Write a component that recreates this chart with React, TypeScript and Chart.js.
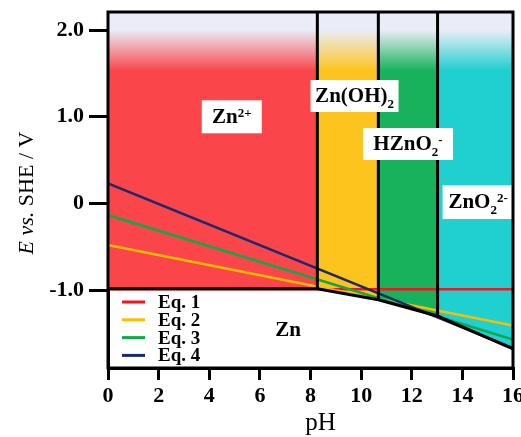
import React, { useEffect, useRef } from "react";
import { Chart, registerables } from "chart.js";

Chart.register(...registerables);

// ---------- data ----------
const xTicks = [0, 2, 4, 6, 8, 10, 12, 14, 16];
const yTicks = [-1, 0, 1, 2];
const xMin = 0;
const xMax = 16;
const yMin = -1.9;
const yMax = 2.21;

// region boundaries (pH) and the lower (Zn) boundary potential (V)
const boundaryPH = [0, 8.27, 10.68, 13.02, 16];
const boundaryE = [-0.985, -0.985, -1.112, -1.3, -1.68];
const regionNames = ["Zn^{2+}", "Zn(OH)_{2}", "HZnO_{2}^{-}", "ZnO_{2}^{2-}"];
const regionColors = ["#fa464b", "#fdc41e", "#17b25b", "#20cfcf"];
const zincName = "Zn";

const eqNames = ["Eq. 1", "Eq. 2", "Eq. 3", "Eq. 4"];
const eqPH = [0, 16];
const eq1E = [-0.99, -0.99];
const eq2E = [-0.48, -1.41];
const eq3E = [-0.134, -1.572];
const eq4E = [0.232, -1.67];
const eqColors = ["#f5141e", "#fbbd00", "#12a84a", "#1b2a6b"];

// ---------- label layout (not data) ----------
const regionLabelLayout = [
  { x: 4.89, y: 1.0, w: 60, h: 33 },
  { x: 9.74, y: 1.24, w: 88, h: 32 },
  { x: 11.85, y: 0.686, w: 90, h: 32 },
  { x: 14.62, y: 0.016, w: 71, h: 34 },
];
const zincLabelAt = { x: 7.11, y: -1.46 };

const SERIF = '"Liberation Serif", "Times New Roman", serif';
const TOP_LIGHT = "#eaedf7";

type Seg = { t: string; m: "n" | "sub" | "sup" };
function parseRich(s: string): Seg[] {
  const segs: Seg[] = [];
  let i = 0;
  const isMark = (k: number) => (s[k] === "^" || s[k] === "_") && s[k + 1] === "{";
  while (i < s.length) {
    if (isMark(i)) {
      const j = s.indexOf("}", i);
      segs.push({ t: s.slice(i + 2, j), m: s[i] === "^" ? "sup" : "sub" });
      i = j + 1;
    } else {
      let j = i;
      while (j < s.length && !isMark(j)) j++;
      segs.push({ t: s.slice(i, j), m: "n" });
      i = j;
    }
  }
  return segs;
}

function drawRich(ctx: CanvasRenderingContext2D, text: string, cx: number, cy: number, size: number) {
  const segs = parseRich(text);
  const big = `bold ${size}px ${SERIF}`;
  const small = `bold ${Math.round(size * 0.63)}px ${SERIF}`;
  let total = 0;
  const widths = segs.map((s) => {
    ctx.font = s.m === "n" ? big : small;
    const w = ctx.measureText(s.t).width;
    total += w;
    return w;
  });
  let x = cx - total / 2;
  const base = cy + size * 0.3;
  ctx.textAlign = "left";
  ctx.textBaseline = "alphabetic";
  ctx.fillStyle = "#000";
  segs.forEach((s, k) => {
    ctx.font = s.m === "n" ? big : small;
    const dy = s.m === "sup" ? -size * 0.3 : s.m === "sub" ? size * 0.25 : 0;
    ctx.fillText(s.t, x, base + dy);
    x += widths[k];
  });
}

function gradientFor(color: string) {
  return (c: any) => {
    const chart = c.chart;
    const a = chart.chartArea;
    if (!a) return color;
    const g = chart.ctx.createLinearGradient(0, a.top, 0, a.bottom);
    g.addColorStop(0, TOP_LIGHT);
    g.addColorStop(0.05, TOP_LIGHT);
    g.addColorStop(0.165, color);
    g.addColorStop(1, color);
    return g;
  };
}

const overlayPlugin = {
  id: "overlay",
  beforeDraw(chart: any) {
    const ctx = chart.ctx;
    ctx.save();
    ctx.fillStyle = "#fff";
    ctx.fillRect(0, 0, chart.width, chart.height);
    ctx.restore();
  },
  afterDatasetsDraw(chart: any) {
    const ctx: CanvasRenderingContext2D = chart.ctx;
    const xs = chart.scales.x;
    const ys = chart.scales.y;
    const a = chart.chartArea;
    ctx.save();
    // region labels with white boxes
    regionNames.forEach((name, i) => {
      const L = regionLabelLayout[i];
      const cx = xs.getPixelForValue(L.x);
      const cy = ys.getPixelForValue(L.y);
      ctx.fillStyle = "#fff";
      ctx.fillRect(cx - L.w / 2, cy - L.h / 2, L.w, L.h);
      drawRich(ctx, name, cx, cy, 21);
    });
    drawRich(ctx, zincName, xs.getPixelForValue(zincLabelAt.x), ys.getPixelForValue(zincLabelAt.y), 21);

    // legend
    const lx = a.left + 14;
    const ly = a.bottom - 66;
    eqNames.forEach((n, i) => {
      const y = ly + i * 17.8;
      ctx.strokeStyle = eqColors[i];
      ctx.lineWidth = 3;
      ctx.beginPath();
      ctx.moveTo(lx, y);
      ctx.lineTo(lx + 23, y);
      ctx.stroke();
      ctx.fillStyle = "#000";
      ctx.font = `bold 19px ${SERIF}`;
      ctx.textAlign = "left";
      ctx.textBaseline = "middle";
      ctx.fillText(n, lx + 36, y + 1);
    });

    // frame
    ctx.strokeStyle = "#000";
    ctx.lineWidth = 3;
    ctx.strokeRect(a.left, a.top, a.right - a.left, a.bottom - a.top);
    ctx.restore();
  },
  afterDraw(chart: any) {
    const ctx: CanvasRenderingContext2D = chart.ctx;
    const a = chart.chartArea;
    ctx.save();
    // x title
    ctx.fillStyle = "#000";
    ctx.font = `25px ${SERIF}`;
    ctx.textAlign = "center";
    ctx.textBaseline = "alphabetic";
    ctx.fillText("pH", (a.left + a.right) / 2 + 10, 430);
    // y title (rotated, mixed italic)
    const segs: { t: string; f: string }[] = [
      { t: "E", f: `italic 22px ${SERIF}` },
      { t: " vs.", f: `italic 22px ${SERIF}` },
      { t: " SHE / V", f: `22px ${SERIF}` },
    ];
    let total = 0;
    const ws = segs.map((s) => {
      ctx.font = s.f;
      const w = ctx.measureText(s.t).width;
      total += w;
      return w;
    });
    ctx.translate(33, (a.top + a.bottom) / 2 + 3);
    ctx.rotate(-Math.PI / 2);
    let x = -total / 2;
    ctx.textAlign = "left";
    segs.forEach((s, k) => {
      ctx.font = s.f;
      ctx.fillText(s.t, x, 0);
      x += ws[k];
    });
    ctx.restore();
  },
};

function pts(xv: number[], yv: number[]) {
  return xv.map((x, i) => ({ x, y: yv[i] }));
}

export default function App() {
  const ref = useRef<HTMLCanvasElement>(null);
  useEffect(() => {
    const datasets: any[] = [];
    // regions
    regionNames.forEach((name, i) => {
      datasets.push({
        label: name,
        data: pts(boundaryPH.slice(i, i + 2), boundaryE.slice(i, i + 2)),
        borderWidth: 0,
        borderColor: "rgba(0,0,0,0)",
        backgroundColor: gradientFor(regionColors[i]),
        fill: "end",
        pointRadius: 0,
        order: 20,
      });
    });
    // equation lines
    const eqE = [eq1E, eq2E, eq3E, eq4E];
    const eqOrder = [15, 10, 9, 8];
    eqNames.forEach((n, i) => {
      datasets.push({
        label: n,
        data: pts(eqPH, eqE[i]),
        borderColor: eqColors[i],
        borderWidth: 2.6,
        pointRadius: 0,
        fill: false,
        order: eqOrder[i],
      });
    });
    // black boundary lines
    datasets.push({
      label: "boundary",
      data: pts(boundaryPH, boundaryE),
      borderColor: "#000",
      borderWidth: 3,
      pointRadius: 0,
      fill: false,
      order: 5,
    });
    for (let i = 1; i < boundaryPH.length - 1; i++) {
      datasets.push({
        label: "v" + i,
        data: pts([boundaryPH[i], boundaryPH[i]], [yMax, boundaryE[i]]),
        borderColor: "#000",
        borderWidth: 3,
        pointRadius: 0,
        fill: false,
        order: 5,
      });
    }

    const tickFont = { family: SERIF, size: 22, weight: "bold" as const };
    const chart = new Chart(ref.current!, {
      type: "line",
      data: { datasets },
      plugins: [overlayPlugin],
      options: {
        responsive: false,
        animation: false,
        devicePixelRatio: 1,
        layout: { padding: { top: 12, right: 8, left: 0, bottom: 0 } },
        plugins: {
          legend: { display: false },
          tooltip: { enabled: false },
        },
        scales: {
          x: {
            type: "linear",
            min: xMin,
            max: xMax,
            afterBuildTicks: (s: any) => {
              s.ticks = xTicks.map((v) => ({ value: v }));
            },
            afterFit: (s: any) => {
              s.height = 69;
              s.paddingLeft = 0;
              s.paddingRight = 0;
            },
            ticks: {
              font: tickFont,
              color: "#000",
              padding: 3,
              maxRotation: 0,
              autoSkip: false,
              callback: (v: any) => String(v),
            },
            grid: {
              display: true,
              drawOnChartArea: false,
              drawTicks: true,
              tickLength: 12,
              lineWidth: 3,
              color: "#000",
            },
            border: { display: true, color: "#000", width: 3 },
          },
          y: {
            type: "linear",
            min: yMin,
            max: yMax,
            afterBuildTicks: (s: any) => {
              s.ticks = yTicks.map((v) => ({ value: v }));
            },
            afterFit: (s: any) => {
              s.width = 108;
              s.paddingTop = 0;
              s.paddingBottom = 0;
            },
            ticks: {
              font: tickFont,
              color: "#000",
              padding: 5,
              callback: (v: any) => (Number(v) === 0 ? "0" : Number(v).toFixed(1)),
            },
            grid: {
              display: true,
              drawOnChartArea: false,
              drawTicks: true,
              tickLength: 19,
              lineWidth: 3,
              color: "#000",
            },
            border: { display: true, color: "#000", width: 3 },
          },
        },
      } as any,
    });
    return () => chart.destroy();
  }, []);
  return (
    <div style={{ position: "fixed", left: 0, top: 0, width: 521, height: 437, background: "#fff" }}>
      <canvas ref={ref} width={521} height={437} style={{ display: "block", width: 521, height: 437 }} />
    </div>
  );
}
